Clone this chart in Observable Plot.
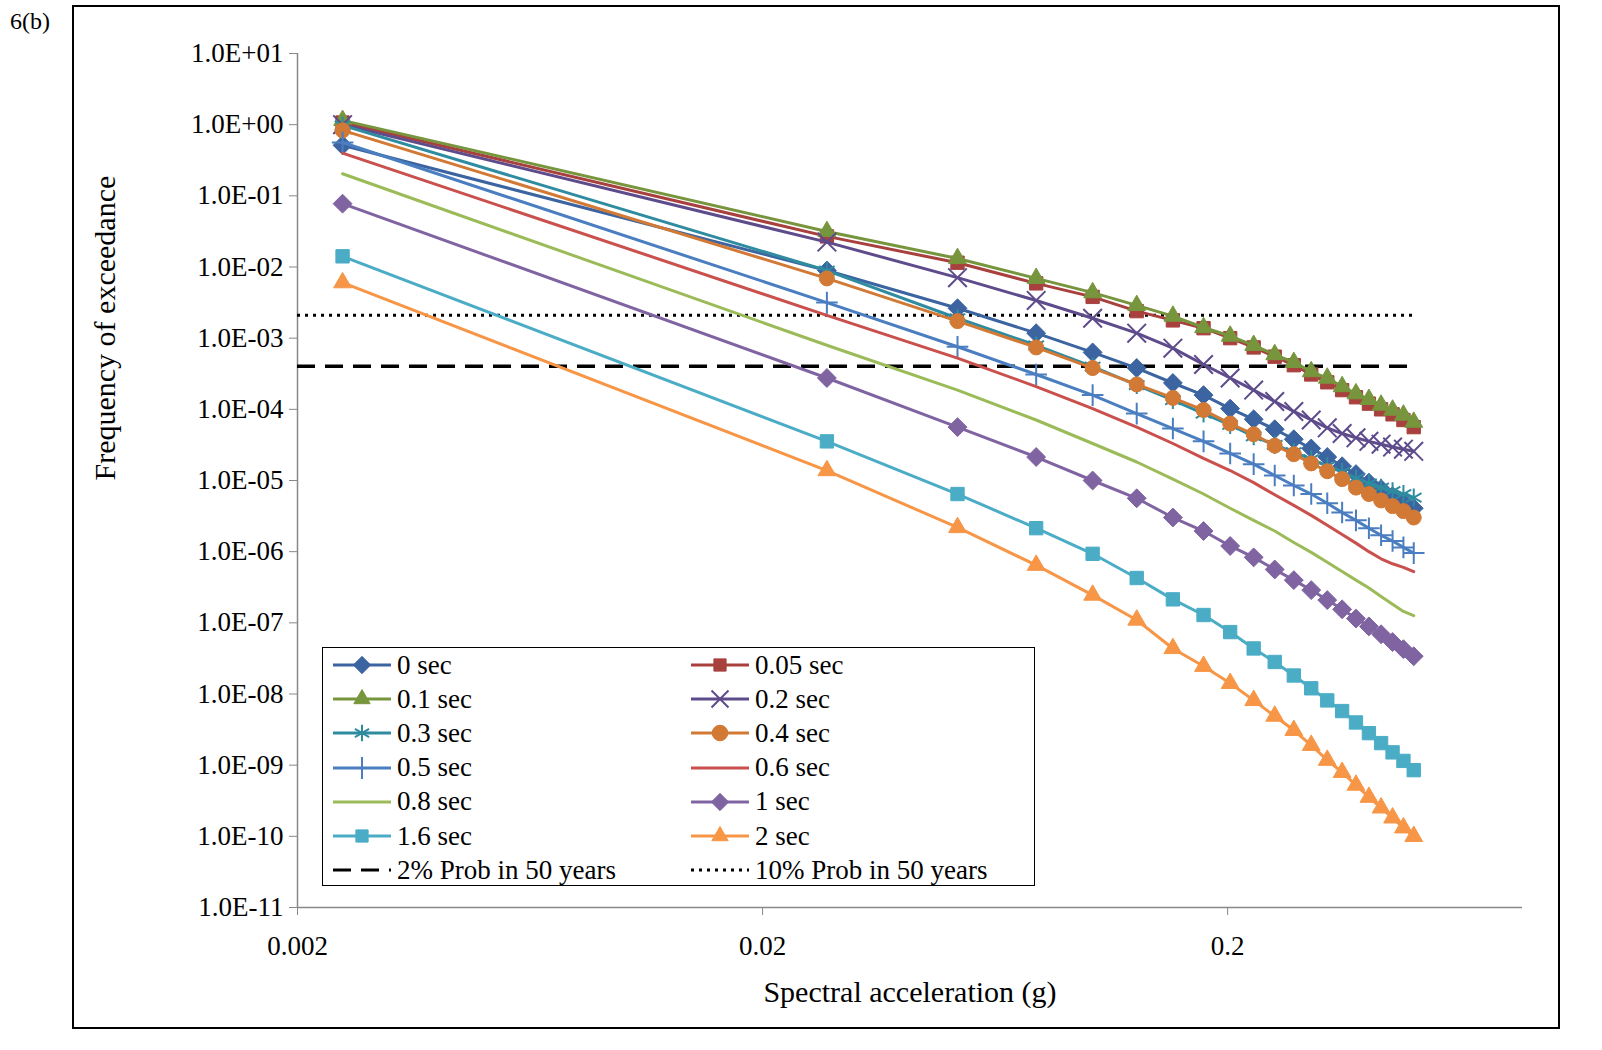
<!DOCTYPE html>
<html>
<head>
<meta charset="utf-8">
<script src="https://cdn.jsdelivr.net/npm/d3@7"></script>
<script src="https://cdn.jsdelivr.net/npm/@observablehq/plot@0.6"></script>
<style>
  body { margin: 0; background: #fff; font-family: "Liberation Serif", serif; }
  #wrap { position: relative; width: 1602px; height: 1050px; }
  #frame { position: absolute; left: 72px; top: 5px; width: 1484px; height: 1020px; border: 2px solid #000; }
  #tag { position: absolute; left: 10px; top: 8px; font-size: 24px; font-family: "Liberation Serif", serif; }
  #legend { position: absolute; left: 322px; top: 647px; width: 711px; height: 237px; border: 1.5px solid #000; background: #fff;
    display: grid; grid-template-columns: 358px 353px; grid-auto-rows: 34.2px; }
  .item { display: flex; align-items: center; font-size: 27px; }
  .item svg { margin-left: 10px; margin-right: 6px; }
</style>
</head>
<body>
<div id="wrap">
  <div id="frame"></div>
  <div id="tag">6(b)</div>
  <div id="chart"></div>
  <div id="legend"></div>
</div>
<script>
// spectral acceleration (g)
const accel = [0.0025, 0.0275, 0.0525, 0.0775, 0.1025, 0.1275, 0.1525, 0.1775, 0.2025, 0.2275, 0.2525,
  0.2775, 0.3025, 0.3275, 0.3525, 0.3775, 0.4025, 0.4275, 0.4525, 0.4775, 0.5025]

// log10 of annual frequency of exceedance
const p0 = [-0.29, -2.05, -2.58, -2.93, -3.20, -3.42, -3.63, -3.80, -3.99, -4.14, -4.28, -4.42, -4.55, -4.67, -4.80, -4.91, -5.03, -5.12, -5.22, -5.31, -5.39]
const p005 = [0.03, -1.57, -1.94, -2.23, -2.42, -2.62, -2.75, -2.86, -3.00, -3.13, -3.26, -3.38, -3.51, -3.62, -3.73, -3.83, -3.92, -4.00, -4.07, -4.15, -4.25]
const p01 = [0.06, -1.50, -1.88, -2.16, -2.36, -2.54, -2.69, -2.85, -2.97, -3.10, -3.23, -3.34, -3.47, -3.56, -3.68, -3.78, -3.86, -3.94, -4.01, -4.08, -4.18]
const p02 = [0.00, -1.65, -2.15, -2.47, -2.72, -2.93, -3.14, -3.37, -3.56, -3.73, -3.89, -4.03, -4.15, -4.26, -4.34, -4.40, -4.45, -4.49, -4.53, -4.56, -4.59]
const p03 = [-0.01, -2.05, -2.72, -3.10, -3.40, -3.66, -3.87, -4.06, -4.22, -4.38, -4.50, -4.60, -4.70, -4.80, -4.88, -4.97, -5.04, -5.10, -5.15, -5.19, -5.24]
const p04 = [-0.08, -2.16, -2.76, -3.13, -3.42, -3.65, -3.84, -4.01, -4.20, -4.35, -4.51, -4.63, -4.76, -4.87, -4.98, -5.10, -5.19, -5.28, -5.36, -5.43, -5.52]
const p05 = [-0.25, -2.50, -3.12, -3.51, -3.80, -4.06, -4.27, -4.45, -4.62, -4.77, -4.93, -5.07, -5.19, -5.32, -5.45, -5.56, -5.67, -5.77, -5.85, -5.94, -6.02]
const p06 = [-0.40, -2.68, -3.28, -3.68, -3.99, -4.25, -4.48, -4.69, -4.86, -5.03, -5.20, -5.35, -5.49, -5.63, -5.76, -5.88, -6.00, -6.10, -6.17, -6.22, -6.28]
const p08 = [-0.69, -3.10, -3.73, -4.15, -4.48, -4.74, -4.98, -5.19, -5.39, -5.56, -5.71, -5.87, -6.01, -6.15, -6.28, -6.40, -6.51, -6.63, -6.74, -6.84, -6.90]
const p1 = [-1.11, -3.56, -4.25, -4.67, -5.00, -5.25, -5.52, -5.71, -5.92, -6.08, -6.25, -6.40, -6.54, -6.68, -6.81, -6.94, -7.05, -7.16, -7.27, -7.37, -7.47]
const p16 = [-1.85, -4.45, -5.19, -5.67, -6.03, -6.37, -6.67, -6.89, -7.13, -7.36, -7.55, -7.74, -7.92, -8.09, -8.24, -8.40, -8.55, -8.69, -8.82, -8.94, -9.07]
const p2 = [-2.22, -4.86, -5.66, -6.19, -6.61, -6.96, -7.36, -7.61, -7.85, -8.09, -8.31, -8.51, -8.72, -8.93, -9.10, -9.28, -9.45, -9.60, -9.74, -9.88, -10.00]

const prob2 = 4.04e-4   // 2% in 50 years
const prob10 = 2.1e-3   // 10% in 50 years
const yTicks = [1e1, 1e0, 1e-1, 1e-2, 1e-3, 1e-4, 1e-5, 1e-6, 1e-7, 1e-8, 1e-9, 1e-10, 1e-11]
const xTicks = [0.002, 0.02, 0.2]

const series = [
  {name: "0 sec", vals: p0, color: "#3B64A0", sym: "diamond2", fill: true},
  {name: "0.05 sec", vals: p005, color: "#A8403D", sym: "square2", fill: true},
  {name: "0.1 sec", vals: p01, color: "#77953D", sym: "triangle2", fill: true},
  {name: "0.2 sec", vals: p02, color: "#5E4B8B", sym: "times", fill: false},
  {name: "0.3 sec", vals: p03, color: "#2F8BA0", sym: "asterisk", fill: false},
  {name: "0.4 sec", vals: p04, color: "#D27A35", sym: "circle", fill: true},
  {name: "0.5 sec", vals: p05, color: "#4A7EC0", sym: "plus", fill: false},
  {name: "0.6 sec", vals: p06, color: "#C9504C", sym: null},
  {name: "0.8 sec", vals: p08, color: "#9BBB59", sym: null},
  {name: "1 sec", vals: p1, color: "#8064A2", sym: "diamond2", fill: true},
  {name: "1.6 sec", vals: p16, color: "#4BACC6", sym: "square2", fill: true},
  {name: "2 sec", vals: p2, color: "#F79646", sym: "triangle2", fill: true}
]
const rows = series.flatMap(s => accel.map((x, i) => ({x, y: Math.pow(10, s.vals[i]), name: s.name})))

const sciFmt = d => {
  const e = Math.round(Math.log10(d))
  return `1.0E${e < 0 ? "-" : "+"}${String(Math.abs(e)).padStart(2, "0")}`
}

const marks = [
  Plot.ruleY([1e-11], {stroke: "#888", strokeWidth: 1.5}),
  Plot.ruleX([0.002], {stroke: "#888", strokeWidth: 1.5}),
  Plot.axisY({ticks: yTicks, tickFormat: sciFmt, tickSize: 8, tickPadding: 6, stroke: "#888", label: null}),
  Plot.axisX({ticks: xTicks, tickFormat: d => String(d), tickSize: 8, tickPadding: 20, stroke: "#888", label: null}),
  Plot.ruleY([prob10], {x1: 0.002, x2: 0.5025, stroke: "#000", strokeWidth: 3, strokeDasharray: "3,5"}),
  Plot.ruleY([prob2], {x1: 0.002, x2: 0.5025, stroke: "#000", strokeWidth: 3.5, strokeDasharray: "18,10"})
]
for (const s of series) {
  const d = rows.filter(r => r.name === s.name)
  marks.push(Plot.line(d, {x: "x", y: "y", stroke: s.color, strokeWidth: 3}))
  if (s.sym) marks.push(Plot.dot(d, {x: "x", y: "y", symbol: () => s.sym,
    r: s.sym === "circle" ? 7.5 : s.sym === "plus" ? 7 : 8.5,
    fill: s.fill ? s.color : "none", stroke: s.color, strokeWidth: s.fill ? 1 : 2}))
}
marks.push(Plot.text(["Frequency of exceedance"], {frameAnchor: "left", dx: -192, rotate: -90, fontSize: 30}))
marks.push(Plot.text(["Spectral acceleration (g)"], {frameAnchor: "bottom", dy: 94, fontSize: 30}))

const chart = Plot.plot({
  width: 1602, height: 1050,
  marginLeft: 297, marginRight: 80, marginTop: 53, marginBottom: 143,
  x: {type: "log", domain: [0.002, 0.861]},
  y: {type: "log", domain: [1e-11, 10]},
  style: {fontFamily: "Liberation Serif", fontSize: "27px", color: "#000", background: "transparent"},
  marks
})
chart.style.position = "absolute"
chart.style.left = "0px"
chart.style.top = "0px"
d3.select("#chart").append(() => chart)

// legend
const legendItems = [...series,
  {name: "2% Prob in 50 years", color: "#000", dash: "18,10"},
  {name: "10% Prob in 50 years", color: "#000", dash: "3,5"}]
const leg = d3.select("#legend")
for (const s of legendItems) {
  const it = leg.append("div").attr("class", "item")
  const sv = it.append("svg").attr("width", 58).attr("height", 22)
  sv.append("line").attr("x1", 0).attr("x2", 58).attr("y1", 11).attr("y2", 11)
    .attr("stroke", s.color).attr("stroke-width", 3).attr("stroke-dasharray", s.dash || null)
  if (s.sym) {
    const sym = {diamond2: d3.symbolDiamond2, square2: d3.symbolSquare2, triangle2: d3.symbolTriangle2,
      times: d3.symbolTimes, asterisk: d3.symbolAsterisk, circle: d3.symbolCircle, plus: d3.symbolPlus}[s.sym]
    sv.append("path").attr("transform", "translate(29,11)").attr("d", d3.symbol(sym, 190)())
      .attr("fill", s.fill ? s.color : "none").attr("stroke", s.color).attr("stroke-width", s.fill ? 1 : 2)
  }
  it.append("span").text(s.name)
}
</script>
</body>
</html>
